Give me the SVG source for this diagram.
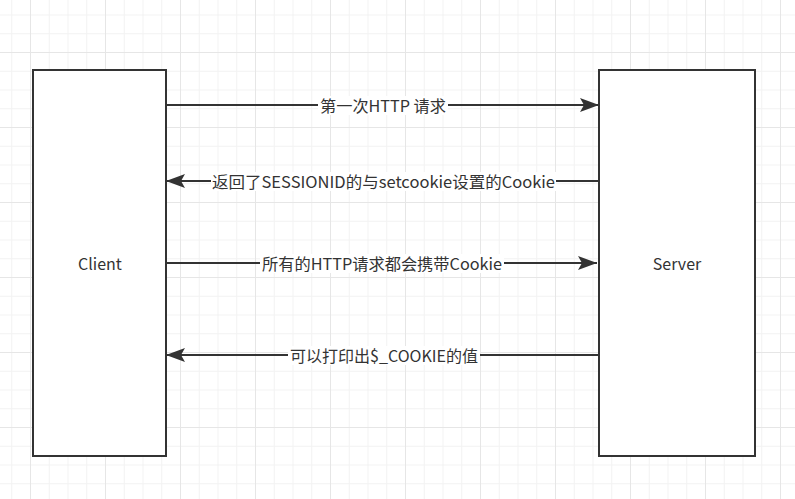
<svg xmlns="http://www.w3.org/2000/svg" width="795" height="499" viewBox="0 0 795 499">
<defs>
<pattern id="minor" x="11.25" y="14.5" width="18.75" height="18.75" patternUnits="userSpaceOnUse">
<path d="M0 0.5H18.75M0.5 0V18.75" fill="none" stroke="#f2f2f2" stroke-width="1"/>
</pattern>
<pattern id="major" x="30" y="52" width="75" height="75" patternUnits="userSpaceOnUse">
<path d="M0 0.5H75M0.5 0V75" fill="none" stroke="#e6e6e6" stroke-width="1"/>
</pattern>
<marker id="arr" viewBox="0 0 20 14" refX="19" refY="7" markerWidth="20" markerHeight="14" markerUnits="userSpaceOnUse" orient="auto">
<path d="M0 0L19 7L0 14L4 7Z" fill="#333"/>
</marker>
</defs>
<style>
.box{fill:#fff;stroke:#333;stroke-width:2}
.line{fill:none;stroke:#333;stroke-width:2}
.lbg{fill:#fff}
text{font-family:"Microsoft YaHei","Noto Sans CJK SC","Noto Sans",sans-serif;font-size:16px;fill:#333;text-anchor:middle;dominant-baseline:central}
</style>
<rect width="795" height="499" fill="#fff"/>
<rect width="795" height="499" fill="url(#minor)"/>
<rect width="795" height="499" fill="url(#major)"/>
<g id="client">
<rect class="box" x="33" y="70" width="133" height="386"/>
<text x="100" y="263">Client</text>
</g>
<g id="server">
<rect class="box" x="599" y="70" width="156" height="386"/>
<text x="677" y="263">Server</text>
</g>
<g id="connectors">
<g id="c1">
<line class="line" x1="166" y1="105" x2="599" y2="105" marker-end="url(#arr)"/>
<rect class="lbg" x="318" y="96" width="130" height="19"/>
<text x="383" y="105" textLength="126" lengthAdjust="spacingAndGlyphs">第一次HTTP 请求</text>
</g>
<g id="c2">
<line class="line" x1="599" y1="181" x2="166" y2="181" marker-end="url(#arr)"/>
<rect class="lbg" x="211" y="172" width="345" height="19"/>
<text x="383.5" y="181" textLength="343" lengthAdjust="spacingAndGlyphs">返回了SESSIONID的与setcookie设置的Cookie</text>
</g>
<g id="c3">
<line class="line" x1="166" y1="263" x2="597" y2="263" marker-end="url(#arr)"/>
<rect class="lbg" x="260" y="254" width="244" height="19"/>
<text x="382" y="263" textLength="240" lengthAdjust="spacingAndGlyphs">所有的HTTP请求都会携带Cookie</text>
</g>
<g id="c4">
<line class="line" x1="599" y1="355" x2="166" y2="355" marker-end="url(#arr)"/>
<rect class="lbg" x="288" y="346" width="192" height="19"/>
<text x="384" y="355" textLength="188" lengthAdjust="spacingAndGlyphs">可以打印出$_COOKIE的值</text>
</g>
</g>
</svg>
